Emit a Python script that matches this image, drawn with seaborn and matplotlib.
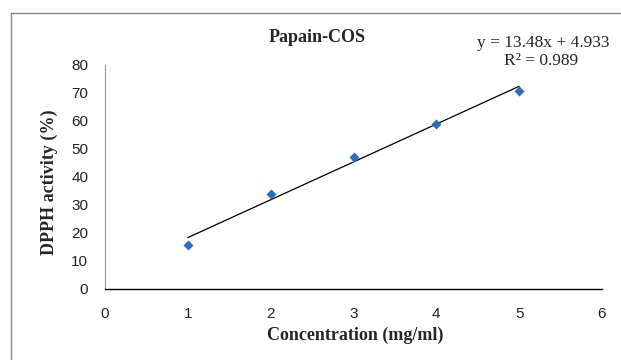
import numpy as np
import pandas as pd
import seaborn as sns
import matplotlib.pyplot as plt
from matplotlib.lines import Line2D

# data
concentration = [1, 2, 3, 4, 5]
dpph_activity = [15.8, 34.0, 47.2, 59.1, 70.8]
x_ticks = [0, 1, 2, 3, 4, 5, 6]
y_ticks = [0, 10, 20, 30, 40, 50, 60, 70, 80]

df = pd.DataFrame({"conc": concentration, "dpph": dpph_activity})

sns.set_style("white")
plt.rcParams['font.family'] = ['Liberation Serif', 'DejaVu Serif']

fig = plt.figure(figsize=(6.21, 3.6), dpi=100)
ax = fig.add_axes([105 / 621, 1 - 289 / 360, 497 / 621, 224 / 360])

sns.regplot(data=df, x="conc", y="dpph", ax=ax, ci=None, truncate=True,
            marker="D", scatter_kws={"s": 26, "color": "#2A6BC6", "alpha": 1,
                                     "zorder": 3, "linewidths": 0},
            line_kws={"color": "black", "lw": 0.9, "zorder": 2})

ax.set_xlim(0, 6)
ax.set_ylim(0, 80)
ax.set_xticks(x_ticks)
ax.set_yticks(y_ticks)
for lab in ax.get_xticklabels() + ax.get_yticklabels():
    lab.set_family('Liberation Sans')
    lab.set_fontsize(11)
ax.tick_params(axis='both', direction='out', length=4, width=0.8)
ax.tick_params(axis='x', pad=9, colors='#808080', labelcolor='#222222')
ax.tick_params(axis='y', pad=8, colors='#808080', labelcolor='#222222')

ax.spines['top'].set_visible(False)
ax.spines['right'].set_visible(False)
ax.spines['left'].set_color('#999999')
ax.spines['left'].set_linewidth(0.8)
ax.spines['bottom'].set_color('black')
ax.spines['bottom'].set_linewidth(1.0)

ax.set_xlabel("Concentration (mg/ml)", fontsize=13, fontweight='bold', va='center')
ax.xaxis.set_label_coords(0.503, -0.205)
ax.set_ylabel("DPPH activity (%)", fontsize=13, fontweight='bold', va='center')
ax.yaxis.set_label_coords(-0.111, 0.478)

fig.text(317 / 621, 1 - 37 / 360, "Papain-COS", ha='center', va='center',
         fontsize=13, fontweight='bold')
fig.text(543 / 621, 1 - 43 / 360, "y = 13.48x + 4.933", ha='center', va='center', fontsize=12.5)
fig.text(541 / 621, 1 - 61 / 360, "R² = 0.989", ha='center', va='center', fontsize=12.5)

# outer chart frame (cropped on right and bottom)
fig.add_artist(Line2D([11 / 621, 11 / 621], [-0.1, 1 - 13 / 360], color='#888888', lw=1))
fig.add_artist(Line2D([11 / 621, 1.1], [1 - 13 / 360, 1 - 13 / 360], color='#888888', lw=1))

fig.savefig("out.png", dpi=100)
